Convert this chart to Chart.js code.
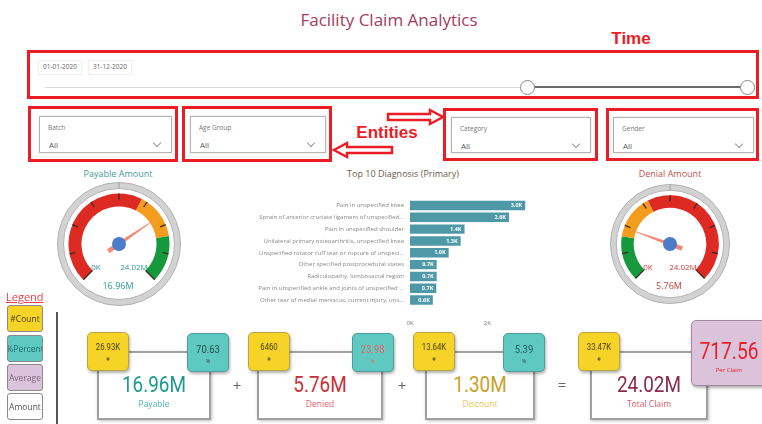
<!DOCTYPE html>
<html>
<head>
<meta charset="utf-8">
<script src="https://cdn.jsdelivr.net/npm/chart.js@4.4.1/dist/chart.umd.min.js"></script>
<style>
  body { margin: 0; width: 762px; height: 424px; background: #fff; position: relative; overflow: hidden; font-family: "Open Sans", sans-serif; }
  .a { position: absolute; box-sizing: border-box; }
  .c { position: absolute; transform: translate(-50%, -50%); white-space: nowrap; line-height: 1; }
  .c.num { font-family: "Roboto", sans-serif; transform: translate(-50%, -50%) scaleX(var(--sx, 0.86)); }
  .red { border: 3px solid #ec1c24; }
  .dd { border: 1px solid #b4b4b4; box-shadow: 0 0 2px rgba(0,0,0,0.15); }
  .dd .lbl { position: absolute; left: 8px; top: 6px; font-size: 6.5px; color: #777; }
  .dd .val { position: absolute; left: 9px; top: 22px; font-size: 8px; color: #555; }
  .dd .chev { position: absolute; right: 11px; top: 23px; width: 5px; height: 5px; border-right: 1px solid #999; border-bottom: 1px solid #999; transform: rotate(45deg); }
  .box { border: 2px solid #a0a0a0; background: #fff; box-shadow: 1px 1px 3px rgba(0,0,0,0.25); }
  .badge { border-radius: 5px; box-shadow: 1px 2px 3px rgba(0,0,0,0.3); }
  .yel { background: #f5d327; border: 1px solid #b9a445; }
  .teal { background: #5ec9c1; border: 1px solid #4d9d98; }
  .leg { left: 7px; width: 36px; height: 27px; border: 1px solid #8a8a8a; border-radius: 3px; overflow: hidden; font-size: 8.5px; white-space: nowrap; display: flex; align-items: center; justify-content: center; }
</style>
</head>
<body>
<div class="c" style="left:389px;top:19px;font-size:17px;color:#a53c5e;">Facility Claim Analytics</div>
<div class="c" style="left:631px;top:38px;font-size:17px;font-weight:bold;color:#ec1c24;font-family:'Liberation Sans',sans-serif;">Time</div>

<!-- time slicer -->
<div class="a red" style="left:27px;top:50px;width:732px;height:49px;"></div>
<div class="a" style="left:38px;top:60px;width:44px;height:15px;border:1px solid #f0f0f0;"></div>
<div class="a" style="left:88px;top:60px;width:44px;height:15px;border:1px solid #f0f0f0;"></div>
<div class="c" style="left:60px;top:67px;font-size:6.5px;color:#666;">01-01-2020</div>
<div class="c" style="left:110px;top:67px;font-size:6.5px;color:#666;">31-12-2020</div>
<div class="a" style="left:45px;top:87px;width:482px;height:1px;background:#dcdcdc;"></div>
<div class="a" style="left:527px;top:86px;width:221px;height:2px;background:#6a6a6a;"></div>
<div class="a" style="left:520px;top:80px;width:15px;height:15px;border-radius:50%;border:1.5px solid #8a8a8a;background:#fff;"></div>
<div class="a" style="left:740px;top:80px;width:15px;height:15px;border-radius:50%;border:1.5px solid #8a8a8a;background:#fff;"></div>

<!-- slicers -->
<div class="a red" style="left:28px;top:106px;width:150px;height:56px;"></div>
<div class="a red" style="left:182px;top:106px;width:150px;height:56px;"></div>
<div class="a red" style="left:443px;top:108px;width:155px;height:53px;"></div>
<div class="a red" style="left:606px;top:108px;width:153px;height:53px;"></div>
<div class="a dd" style="left:39px;top:116px;width:133px;height:37px;"><span class="lbl">Batch</span><span class="val">All</span><span class="chev"></span></div>
<div class="a dd" style="left:190px;top:116px;width:136px;height:37px;"><span class="lbl">Age Group</span><span class="val">All</span><span class="chev"></span></div>
<div class="a dd" style="left:451px;top:117px;width:140px;height:36px;"><span class="lbl">Category</span><span class="val">All</span><span class="chev"></span></div>
<div class="a dd" style="left:613px;top:117px;width:141px;height:36px;"><span class="lbl">Gender</span><span class="val">All</span><span class="chev"></span></div>
<div class="c" style="left:387px;top:132px;font-size:17px;font-weight:bold;color:#ec1c24;font-family:'Liberation Sans',sans-serif;">Entities</div>
<svg class="a" style="left:0;top:0;" width="762" height="424">
  <polygon points="388,114 430,114 430,110 443,117 430,124 430,120 388,120" fill="#fff" stroke="#ec1c24" stroke-width="2.5"/>
  <polygon points="392,147 347,147 347,143 334,150 347,157 347,153 392,153" fill="#fff" stroke="#ec1c24" stroke-width="2.5"/>
</svg>

<!-- gauges and bar chart -->
<div class="c" style="left:118px;top:173px;font-size:9px;color:#3d9c9c;">Payable Amount</div>
<div class="c" style="left:403px;top:173px;font-size:9px;color:#6b5a48;">Top 10 Diagnosis (Primary)</div>
<div class="c" style="left:670px;top:173px;font-size:9px;color:#c4504f;">Denial Amount</div>
<canvas id="gPay" class="a" width="124" height="124" style="left:57px;top:182px;"></canvas>
<canvas id="gDen" class="a" width="120" height="120" style="left:610px;top:184px;"></canvas>
<canvas id="diag" class="a" width="296" height="140" style="left:230px;top:190px;"></canvas>
<div id="gtext"></div>

<!-- legend -->
<div class="a" style="left:6px;top:289px;font-size:11px;color:#f0404e;text-decoration:underline;">Legend</div>
<div class="a leg" style="top:305px;background:#f5d327;color:#4a3c10;">#Count</div>
<div class="a leg" style="top:335px;background:#5ec9c1;color:#1d6b69;">%Percent</div>
<div class="a leg" style="top:364px;background:#dcc3dc;color:#7a6a7a;">Average</div>
<div class="a leg" style="top:393px;background:#fff;color:#555;">Amount</div>
<div class="a" style="left:56px;top:312px;width:2px;height:112px;background:#555;"></div>

<div id="kpis"></div>

<script>
// top 10 diagnosis, counts in thousands
const diagLabels = [
  'Pain in unspecified knee',
  'Sprain of anterior cruciate ligament of unspecified...',
  'Pain in unspecified shoulder',
  'Unilateral primary osteoarthritis, unspecified knee',
  'Unspecified rotator cuff tear or rupture of unspeci...',
  'Other specified postprocedural states',
  'Radiculopathy, lumbosacral region',
  'Pain in unspecified ankle and joints of unspecified ...',
  'Other tear of medial meniscus, current injury, uns...'
];
const diagCounts = [2.98, 2.56, 1.41, 1.31, 1.0, 0.69, 0.69, 0.68, 0.59];
const diagAxisMax = 3.0;
const diagTickStep = 2;

// gauges (amounts in millions)
const gaugeMax = 24.02;
const payableAmount = 16.96;
const denialAmount = 5.76;
const payableBands = [60, 20, 20];
const denialBands = [20, 20, 60];

// kpi cards
const kpiNames = ['Payable', 'Denied', 'Discount', 'Total Claim'];
const kpiAmounts = ['16.96M', '5.76M', '1.30M', '24.02M'];
const kpiCounts = ['26.93K', '6460', '13.64K', '33.47K'];
const kpiPercents = ['70.63', '23.98', '5.39'];
const perClaim = '717.56';

Chart.defaults.font.family = '"Open Sans", sans-serif';

const RED = '#dd2a22', ORANGE = '#f39c1e', GREEN = '#16993c';

const needle = {
  id: 'needle',
  afterDatasetsDraw(chart, args, opts) {
    const arcs = chart.getDatasetMeta(2).data;
    const first = arcs[0], last = arcs[arcs.length - 1];
    const cx = first.x, cy = first.y;
    const r0 = first.innerRadius, r1 = first.outerRadius;
    const a0 = first.startAngle, a1 = last.endAngle;
    const ctx = chart.ctx;
    ctx.save();
    ctx.strokeStyle = '#3b2a22';
    ctx.lineWidth = 1.3;
    for (let i = 0; i <= 8; i++) {
      const a = a0 + (a1 - a0) * i / 8;
      const inner = (i === 0 || i === 8) ? r0 : r1 - 6;
      ctx.beginPath();
      ctx.moveTo(cx + Math.cos(a) * inner, cy + Math.sin(a) * inner);
      ctx.lineTo(cx + Math.cos(a) * r1, cy + Math.sin(a) * r1);
      ctx.stroke();
    }
    const a = a0 + (a1 - a0) * opts.value / gaugeMax;
    const tip = r1 - 3, tail = 13, w = 2.4;
    const ux = Math.cos(a), uy = Math.sin(a);
    ctx.fillStyle = '#f28c78';
    ctx.beginPath();
    ctx.moveTo(cx + ux * tip, cy + uy * tip);
    ctx.lineTo(cx - ux * tail - uy * w, cy - uy * tail + ux * w);
    ctx.lineTo(cx - ux * tail + uy * w, cy - uy * tail - ux * w);
    ctx.closePath();
    ctx.fill();
    ctx.fillStyle = '#4a7cc9';
    ctx.beginPath();
    ctx.arc(cx, cy, 7, 0, Math.PI * 2);
    ctx.fill();
    ctx.restore();
  }
};

function gauge(id, bands, colors, value) {
  return new Chart(document.getElementById(id), {
    type: 'doughnut',
    data: {
      datasets: [
        { data: [1], backgroundColor: '#d2d2d2', borderColor: '#b2b2b2', borderWidth: 1, weight: 6 },
        { data: [1], backgroundColor: 'rgba(0,0,0,0)', borderWidth: 0, weight: 5 },
        { data: bands, backgroundColor: colors, borderWidth: 0, weight: 13, rotation: -135, circumference: 270 },
      ],
    },
    options: {
      responsive: false,
      animation: false,
      events: [],
      cutout: '61%',
      plugins: { legend: { display: false }, tooltip: { enabled: false }, needle: { value } },
    },
    plugins: [needle],
  });
}

gauge('gPay', payableBands, [RED, ORANGE, GREEN], payableAmount);
gauge('gDen', denialBands, [GREEN, ORANGE, RED], denialAmount);

const barValues = {
  id: 'barValues',
  afterDatasetsDraw(chart) {
    const ctx = chart.ctx;
    ctx.save();
    ctx.fillStyle = '#fff';
    ctx.font = 'bold 5.5px "Open Sans", sans-serif';
    ctx.textAlign = 'right';
    ctx.textBaseline = 'middle';
    chart.getDatasetMeta(0).data.forEach((bar, i) => {
      ctx.fillText(diagCounts[i].toFixed(1) + 'K', bar.x - 3, bar.y);
    });
    ctx.restore();
  }
};

new Chart(document.getElementById('diag'), {
  type: 'bar',
  data: {
    labels: diagLabels,
    datasets: [{ data: diagCounts, backgroundColor: '#4f98a8', categoryPercentage: 0.84, barPercentage: 0.95 }],
  },
  options: {
    responsive: false,
    animation: false,
    events: [],
    indexAxis: 'y',
    layout: { padding: { top: 6, right: 0, bottom: 0, left: 0 } },
    plugins: { legend: { display: false }, tooltip: { enabled: false } },
    scales: {
      x: {
        min: 0,
        max: diagAxisMax,
        grid: { display: false, drawTicks: false },
        border: { display: false },
        ticks: { stepSize: diagTickStep, includeBounds: false, callback: (v) => v + 'K', font: { size: 6 }, color: '#777', padding: 14 },
        afterFit: (s) => { s.height = 24; },
      },
      y: {
        grid: { display: false, drawTicks: false },
        border: { display: false },
        ticks: { font: { size: 6 }, color: '#888', padding: 6 },
        afterFit: (s) => { s.width = 180; },
      },
    },
  },
  plugins: [barValues],
});

// gauge labels
const fmtM = (v) => v.toFixed(2) + 'M';
document.getElementById('gtext').innerHTML = `
  <div class="c" style="left:96px;top:267px;font-size:8px;color:#2a9a98;">0K</div>
  <div class="c" style="left:134px;top:267px;font-size:8px;color:#2a9a98;">${fmtM(gaugeMax)}</div>
  <div class="c" style="left:118px;top:285px;font-size:9px;color:#2a9a98;">${fmtM(payableAmount)}</div>
  <div class="c" style="left:648px;top:267px;font-size:8px;color:#c8403e;">0K</div>
  <div class="c" style="left:683px;top:267px;font-size:8px;color:#c8403e;">${fmtM(gaugeMax)}</div>
  <div class="c" style="left:669px;top:285px;font-size:9px;color:#c8403e;">${fmtM(denialAmount)}</div>`;

// kpi cards
const cardBox = [[97, 211], [257, 383], [425, 535], [590, 708]];
const yelX = [87, 248, 413, 578];
const tealX = [187, 352, 503];
const bigColor = ['#1c9a8c', '#c8303a', '#c9a227', '#8a2a4c'];
const subColor = ['#4ab8b0', '#f06070', '#e9c64e', '#e25566'];
const pctColor = ['#2a4a4a', '#e06a6a', '#2a5a60'];
let html = '';
kpiNames.forEach((name, i) => {
  const [l, r] = cardBox[i];
  const cx = (l + r) / 2;
  html += `<div class="a box" style="left:${l}px;top:351px;width:${r - l}px;height:69px;"></div>`;
  html += `<div class="c num" style="left:${cx}px;top:385px;font-size:22px;color:${bigColor[i]};">${kpiAmounts[i]}</div>`;
  html += `<div class="c" style="left:${cx}px;top:404px;font-size:8.5px;color:${subColor[i]};">${name}</div>`;
  html += `<div class="a badge yel" style="left:${yelX[i]}px;top:332px;width:42px;height:39px;"></div>`;
  html += `<div class="c num" style="left:${yelX[i] + 21}px;top:347px;font-size:9px;color:#4a3c10;">${kpiCounts[i]}</div>`;
  html += `<div class="c" style="left:${yelX[i] + 21}px;top:360px;font-size:5.5px;color:#4a3c10;">#</div>`;
  if (i < 3) {
    html += `<div class="a badge teal" style="left:${tealX[i]}px;top:333px;width:42px;height:39px;"></div>`;
    html += `<div class="c num" style="left:${tealX[i] + 21}px;top:349px;font-size:11px;color:${pctColor[i]};">${kpiPercents[i]}</div>`;
    html += `<div class="c" style="left:${tealX[i] + 21}px;top:362px;font-size:5.5px;color:${pctColor[i]};">%</div>`;
  }
});
html += `<div class="a badge" style="left:691px;top:320px;width:76px;height:66px;background:#dcc3dc;border:1px solid #a08aa0;"></div>`;
html += `<div class="c num" style="left:729px;top:351px;font-size:24px;color:#e8202a;--sx:0.8;">${perClaim}</div>`;
html += `<div class="c" style="left:729px;top:370px;font-size:6px;color:#e8202a;">Per Claim</div>`;
html += `<div class="c" style="left:237px;top:385px;font-size:15px;color:#666;">+</div>`;
html += `<div class="c" style="left:402px;top:385px;font-size:15px;color:#666;">+</div>`;
html += `<div class="c" style="left:562px;top:384px;font-size:15px;color:#666;">=</div>`;
document.getElementById('kpis').innerHTML = html;
</script>
</body>
</html>
